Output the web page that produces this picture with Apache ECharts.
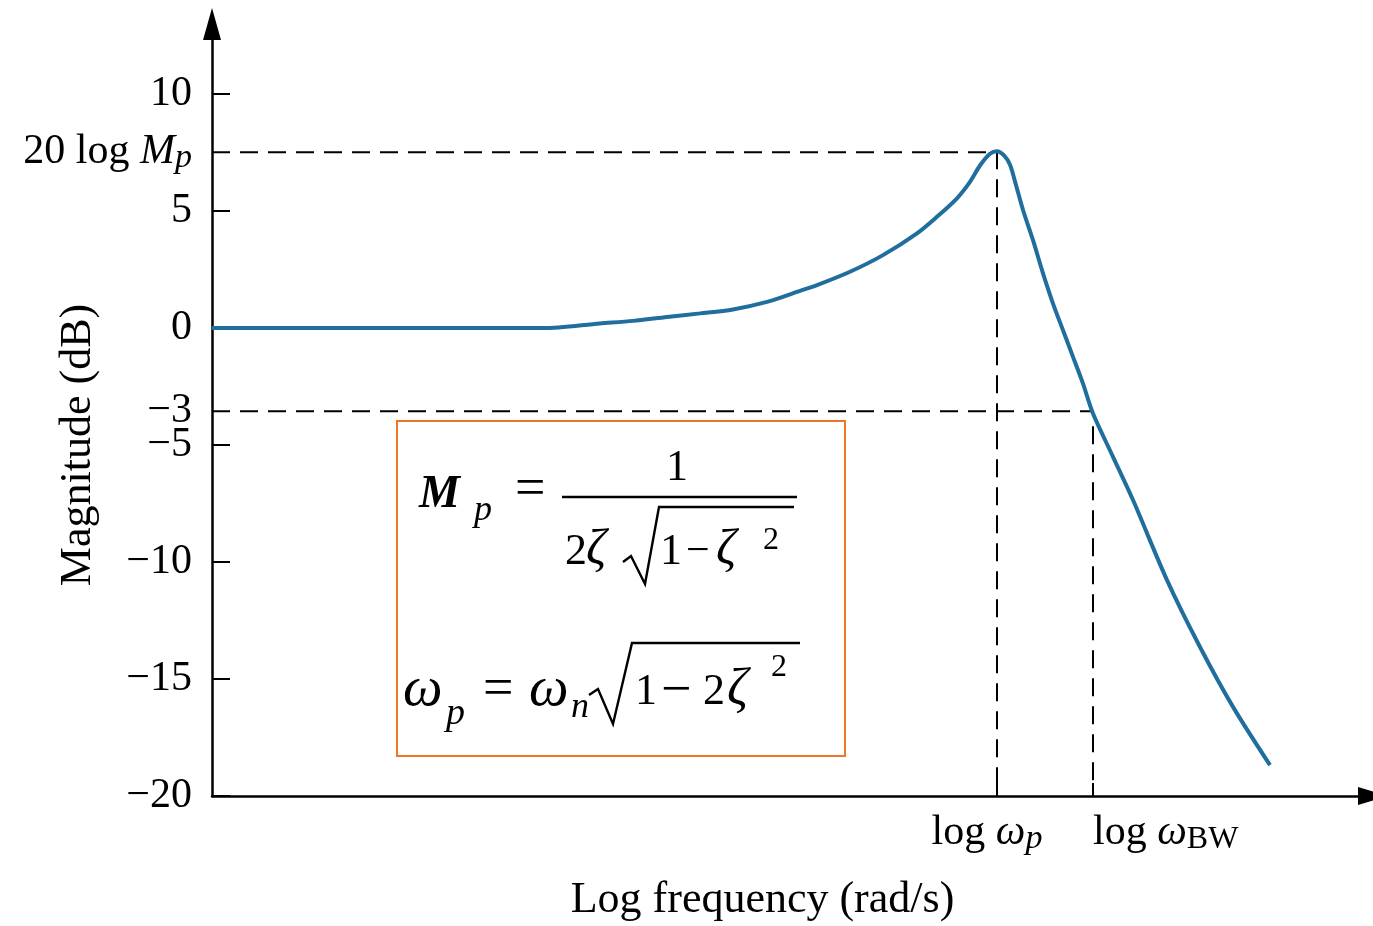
<!DOCTYPE html>
<html>
<head>
<meta charset="utf-8">
<script src="https://cdn.jsdelivr.net/npm/echarts@6/dist/echarts.min.js"></script>
<style>html,body{margin:0;padding:0;background:#fff}#main{width:1373px;height:926px}</style>
</head>
<body>
<div id="main"></div>
<script>
// log frequency (arbitrary units) and magnitude in dB
var freq = [0, 15, 33.1, 38.8, 42.1, 45.5, 48.8, 52.1, 55.5, 58.5, 60.5, 63.8, 67.1, 70.5, 72.5, 74.5, 75.8, 76.8, 77.8, 78.5, 79.2, 79.8, 80.3, 81.1, 82.1, 83.1, 84.1, 85.1, 86.1, 87.1, 88.1, 90.1, 92.1, 95.5, 98.8, 102.1, 105.8];
var mag  = [0, 0, 0, 0.2, 0.31, 0.48, 0.63, 0.80, 1.12, 1.55, 1.84, 2.41, 3.12, 4.05, 4.76, 5.55, 6.25, 6.95, 7.45, 7.56, 7.38, 6.98, 6.27, 5.05, 3.76, 2.34, 1.05, -0.09, -1.23, -2.37, -3.65, -5.50, -7.35, -10.77, -13.63, -16.19, -18.68];

var yTicks = [-20, -15, -10, -5, 0, 5, 10];
var mpLevel = 7.52;    // 20 log Mp
var bwLevel = -3.55;   // the "-3" line as drawn
var peakFreq = 78.5;   // log wp
var bwFreq = 88.1;     // log wBW

var serif = '"Liberation Serif", "Times New Roman", serif';

var curve = [];
for (var i = 0; i < freq.length; i++) {
    curve.push([freq[i], mag[i]]);
}
var mpGuide = [[0, mpLevel], [peakFreq, mpLevel], [peakFreq, -20]];
var bwGuide = [[0, bwLevel], [bwFreq, bwLevel], [bwFreq, -20]];

function txt(s, x, y, size, style) {
    return {
        type: 'text', x: x, y: y, silent: true,
        style: {
            text: s, fill: '#000',
            font: (style || '') + ' ' + size + 'px ' + serif,
            textAlign: 'left', textVerticalAlign: 'middle',
            align: 'left', verticalAlign: 'middle'
        }
    };
}
function stroke(points, w) {
    return {
        type: 'polyline', silent: true,
        shape: {points: points},
        style: {stroke: '#000', lineWidth: w, fill: null, lineJoin: 'miter'}
    };
}

var formula = [
    {
        type: 'rect', silent: true,
        shape: {x: 397, y: 421, width: 448, height: 335},
        style: {fill: null, stroke: '#f07524', lineWidth: 2}
    },
    // Mp = 1 / (2 zeta sqrt(1 - zeta^2))
    txt('M', 419, 495, 46, 'italic bold'),
    txt('p', 474, 511, 36, 'italic'),
    txt('=', 515, 491, 54),
    txt('1', 666, 468, 44),
    stroke([[562, 497], [797, 497]], 2.5),
    txt('2', 565, 552, 44),
    txt('ζ', 586, 551, 50, 'italic'),
    stroke([[623, 562], [631, 556], [645, 584], [659, 507], [794, 507]], 2.4),
    txt('1', 660, 552, 44),
    txt('−', 686, 552, 42),
    txt('ζ', 716, 551, 50, 'italic'),
    txt('2', 763, 541, 32),
    // wp = wn sqrt(1 - 2 zeta^2)
    txt('ω', 403, 690, 56, 'italic'),
    txt('p', 446, 714, 38, 'italic'),
    txt('=', 483, 691, 54),
    txt('ω', 529, 690, 56, 'italic'),
    txt('n', 571, 708, 36, 'italic'),
    stroke([[589, 695], [598, 689], [613, 724], [632, 643], [800, 643]], 2.4),
    txt('1', 635, 692, 44),
    txt('−', 661, 692, 54),
    txt('2', 703, 692, 44),
    txt('ζ', 727, 690, 52, 'italic'),
    txt('2', 771, 668, 32)
];

var myChart = echarts.init(document.getElementById('main'));
var option = {
    backgroundColor: '#fff',
    animation: false,
    grid: {left: 212, right: 0, top: 24, bottom: 130, containLabel: false, outerBoundsMode: 'none'},
    xAxis: {
        type: 'value', min: 0, max: 116.1,
        name: 'Log frequency (rad/s)',
        nameLocation: 'middle', nameGap: 82, nameMoveOverlap: false,
        nameTextStyle: {fontSize: 44, fontFamily: serif, color: '#000', padding: [0, 60, 0, 0]},
        splitLine: {show: false},
        axisLine: {
            onZero: false,
            symbol: ['none', 'triangle'], symbolSize: [18, 30],
            lineStyle: {color: '#000', width: 2.5}
        },
        axisTick: {inside: true, length: 13, customValues: [peakFreq, bwFreq], lineStyle: {color: '#000', width: 2}},
        axisLabel: {
            customValues: [peakFreq, bwFreq],
            showMinLabel: true, showMaxLabel: true, hideOverlap: false,
            alignMaxLabel: 'left',
            margin: 14,
            fontSize: 42, fontFamily: serif, color: '#000',
            formatter: function (v) {
                if (Math.abs(v - peakFreq) < 1e-6) return '{n|log }{w|ω}{s|p}{pad|}';
                return '{n|log }{w|ω}{b|BW}';
            },
            rich: {
                n: {fontSize: 42, fontFamily: serif, color: '#000', lineHeight: 46},
                w: {fontSize: 42, fontFamily: serif, fontStyle: 'italic', color: '#000', lineHeight: 46},
                s: {fontSize: 34, fontFamily: serif, fontStyle: 'italic', color: '#000', lineHeight: 30, verticalAlign: 'bottom'},
                b: {fontSize: 32, fontFamily: serif, color: '#000', lineHeight: 12, verticalAlign: 'bottom'},
                pad: {width: 20}
            }
        }
    },
    yAxis: {
        type: 'value', min: -20, max: 13,
        name: 'Magnitude (dB)',
        nameLocation: 'middle', nameGap: 112, nameMoveOverlap: false,
        nameTextStyle: {fontSize: 44, fontFamily: serif, color: '#000', padding: [0, 70, 0, 0]},
        splitLine: {show: false},
        axisLine: {
            onZero: false,
            symbol: ['none', 'triangle'], symbolSize: [18, 32],
            lineStyle: {color: '#000', width: 2.5}
        },
        axisTick: {inside: true, length: 18, customValues: yTicks, lineStyle: {color: '#000', width: 2}},
        axisLabel: {
            customValues: yTicks.concat([mpLevel, bwLevel]),
            showMinLabel: true, showMaxLabel: true, hideOverlap: false,
            margin: 20,
            fontSize: 42, fontFamily: serif, color: '#000',
            formatter: function (v) {
                if (Math.abs(v - mpLevel) < 1e-6) return '{n|20 log }{m|M}{s|p}';
                if (Math.abs(v - bwLevel) < 1e-6) return '−3';
                return v < 0 ? '−' + (-v) : String(v);
            },
            rich: {
                n: {fontSize: 42, fontFamily: serif, color: '#000', lineHeight: 46},
                m: {fontSize: 42, fontFamily: serif, fontStyle: 'italic', color: '#000', lineHeight: 46},
                s: {fontSize: 34, fontFamily: serif, fontStyle: 'italic', color: '#000', lineHeight: 30, verticalAlign: 'bottom'}
            }
        }
    },
    series: [
        {
            type: 'line', data: mpGuide, symbol: 'none', silent: true, z: 1,
            lineStyle: {color: '#000', width: 2, type: [18, 10]}
        },
        {
            type: 'line', data: bwGuide, symbol: 'none', silent: true, z: 1,
            lineStyle: {color: '#000', width: 2, type: [18, 10]}
        },
        {
            type: 'line', data: curve, symbol: 'none', z: 3,
            smooth: 0.3,
            lineStyle: {color: '#1f6e9d', width: 4}
        }
    ],
    graphic: formula
};
myChart.setOption(option);
</script>
</body>
</html>
